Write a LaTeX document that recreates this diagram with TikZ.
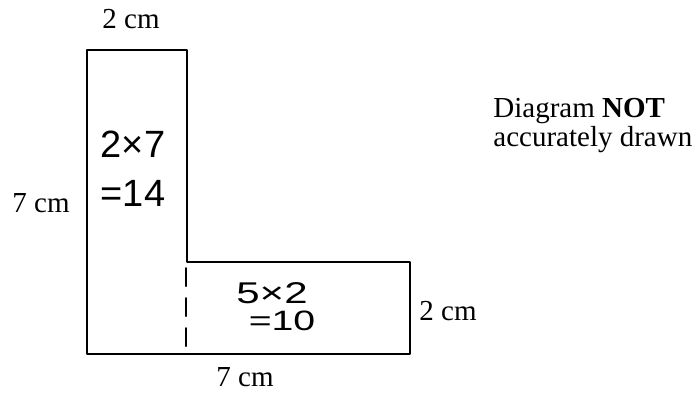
\documentclass[tikz,border=0pt]{standalone}
\usepackage{fontspec}
\setmainfont{Liberation Serif}
\newfontfamily\handfont{Liberation Sans}

\begin{document}
\begin{tikzpicture}[x=0.5pt,y=-0.5pt,line cap=round,line join=round,
  lbl/.style={font=\fontsize{14.5}{15}\selectfont,inner sep=0pt},
  hand/.style={font=\handfont\fontsize{#1}{#1}\selectfont,inner sep=0pt}]
  \useasboundingbox (0,0) rectangle (695,392);
  \draw[line width=1pt] (87,50) -- (187,50) -- (187,262) -- (410,262)
    -- (410,354) -- (87,354) -- cycle;
  \draw[line width=1pt,dash pattern=on 9pt off 6pt] (186,268) -- (186,354);
  \node[lbl,anchor=base] (topw) at (131,28) {2 cm};
  \node[lbl,anchor=base] (lefth) at (41,212) {7 cm};
  \node[lbl,anchor=base] (righth) at (448,320) {2 cm};
  \node[lbl,anchor=base] (botw) at (245,386) {7 cm};
  \node[lbl,anchor=base west] (note1) at (493,117) {Diagram \textbf{NOT}};
  \node[lbl,anchor=base west] (note2) at (493,146) {accurately drawn};
  \node[hand=19] (calca) at (133,144) {2×7};
  \node[hand=19] (calcb) at (133,193) {=14};
  \node[hand=15,transform shape,xscale=1.4] (calcc) at (272,293) {5×2};
  \node[hand=14,transform shape,xscale=1.4] (calcd) at (282,321) {=10};
\end{tikzpicture}
\end{document}
